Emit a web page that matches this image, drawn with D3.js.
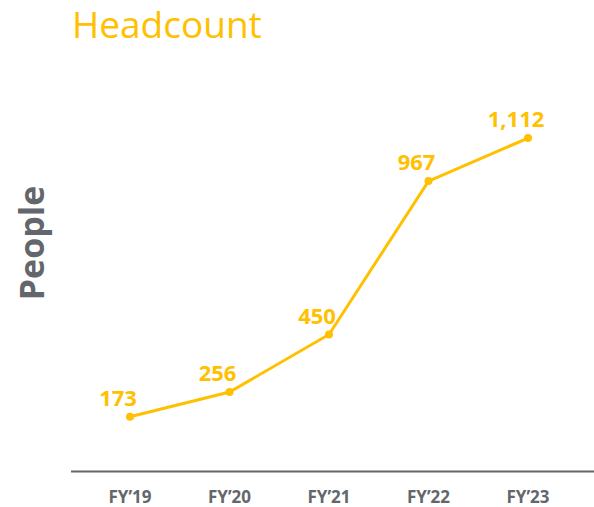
<!DOCTYPE html>
<html lang="en">
  <head>
    <meta charset="utf-8">
    <title>Headcount</title>
    <script type="text/javascript" src="https://cdn.jsdelivr.net/npm/d3@7"></script>
    <style>
      body { margin: 0; background: #ffffff; }
    </style>
  </head>
  <body>
    <script type="text/javascript">
    // data
    var years = ["FY\u201919", "FY\u201920", "FY\u201921", "FY\u201922", "FY\u201923"];
    var headcount = [173, 256, 450, 967, 1112];

    var w = 594;
    var h = 507;

    var yellow = "#ffc000";
    var grey = "#63666a";

    var svg = d3.select("body")
                .append("svg")
                .attr("width", w)
                .attr("height", h);

    // scales
    var xScale = d3.scalePoint()
                   .domain(years)
                   .range([130, 528]);
    var yScale = d3.scaleLinear()
                   .domain([0, 1200])
                   .range([468, 112]);

    var dataset = years.map(function(y, i) {
      return { year: y, value: headcount[i] };
    });

    // title
    svg.append("text")
       .text("Headcount")
       .attr("x", 72)
       .attr("y", 38)
       .attr("fill", yellow)
       .attr("font-size", 37)
       .attr("font-family", "'Open Sans', sans-serif");

    // y axis title
    svg.append("text")
       .text("People")
       .attr("transform", "translate(44,243) rotate(-90)")
       .attr("text-anchor", "middle")
       .attr("fill", grey)
       .attr("font-size", 34)
       .attr("font-weight", "bold")
       .attr("font-family", "'Open Sans', sans-serif");

    // baseline
    svg.append("line")
       .attr("x1", 71)
       .attr("x2", w)
       .attr("y1", 471.5)
       .attr("y2", 471.5)
       .attr("stroke", grey)
       .attr("stroke-width", 2);

    // x labels
    svg.selectAll("text.xlab")
       .data(years)
       .enter()
       .append("text")
       .attr("class", "xlab")
       .text(function(d) { return d; })
       .attr("x", function(d) { return xScale(d); })
       .attr("y", 503)
       .attr("text-anchor", "middle")
       .attr("fill", grey)
       .attr("font-size", 17)
       .attr("font-weight", "bold")
       .attr("font-family", "'Open Sans', sans-serif");

    // the line
    var line = d3.line()
                 .x(function(d) { return xScale(d.year); })
                 .y(function(d) { return yScale(d.value); });

    svg.append("path")
       .datum(dataset)
       .attr("d", line)
       .attr("fill", "none")
       .attr("stroke", yellow)
       .attr("stroke-width", 3);

    svg.selectAll("circle")
       .data(dataset)
       .enter()
       .append("circle")
       .attr("cx", function(d) { return xScale(d.year); })
       .attr("cy", function(d) { return yScale(d.value); })
       .attr("r", 4)
       .attr("fill", yellow);

    // value labels
    svg.selectAll("text.val")
       .data(dataset)
       .enter()
       .append("text")
       .attr("class", "val")
       .text(function(d) { return d3.format(",")(d.value); })
       .attr("x", function(d) { return xScale(d.year) - 12; })
       .attr("y", function(d) { return yScale(d.value) - 11; })
       .attr("text-anchor", "middle")
       .attr("fill", yellow)
       .attr("font-size", 22)
       .attr("font-weight", "bold")
       .attr("font-family", "'Open Sans', sans-serif");

    </script>
  </body>
</html>
